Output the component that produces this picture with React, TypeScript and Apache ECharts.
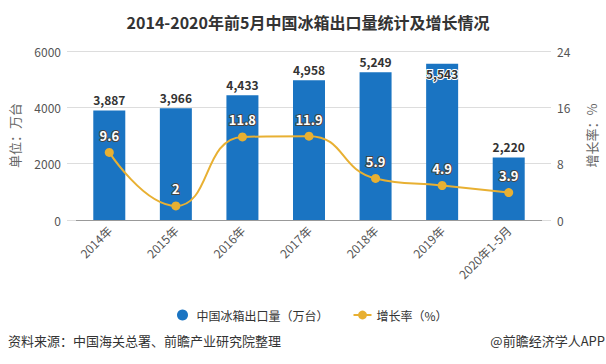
import React, { useEffect, useRef } from "react";
import * as echarts from "echarts";

const categories = ["2014年", "2015年", "2016年", "2017年", "2018年", "2019年", "2020年1-5月"];
const exportVolume = [3887, 3966, 4433, 4958, 5249, 5543, 2220];
const growthRate = [9.6, 2, 11.8, 11.9, 5.9, 4.9, 3.9];
const leftTicks = { min: 0, max: 6000, interval: 2000 };
const rightTicks = { min: 0, max: 24, interval: 8 };

const FONT = "'Noto Sans CJK SC', 'Noto Sans', sans-serif";

export default function App() {
  const ref = useRef<HTMLDivElement>(null);
  useEffect(() => {
    const chart = echarts.init(ref.current!, undefined, { renderer: "svg" });
    chart.setOption({
      animation: false,
      backgroundColor: "#fff",
      textStyle: { fontFamily: FONT },
      title: {
        text: "2014-2020年前5月中国冰箱出口量统计及增长情况",
        left: 303,
        textAlign: "center",
        top: 9,
        textStyle: { fontSize: 16, fontWeight: "bold", color: "#333", fontFamily: FONT },
      },
      grid: { left: 72, right: 62, top: 51, bottom: 144 },
      legend: {
        left: 172,
        top: 304,
        itemGap: 24,
        itemWidth: 18,
        itemHeight: 11,
        textStyle: { fontSize: 12, color: "#333", fontFamily: FONT },
        data: [
          { name: "中国冰箱出口量（万台）", icon: "circle" },
          { name: "增长率（%）" },
        ],
      },
      xAxis: {
        type: "category",
        data: categories,
        axisLine: { lineStyle: { color: "#999" } },
        axisTick: { alignWithLabel: true, length: 6, lineStyle: { color: "#999" } },
        axisLabel: { rotate: 45, fontSize: 12, color: "#555", margin: 8, fontFamily: FONT },
      },
      yAxis: [
        {
          type: "value",
          ...leftTicks,
          name: "单位：万台",
          nameLocation: "middle",
          nameGap: 55,
          nameRotate: 90,
          nameTextStyle: { fontSize: 13, color: "#666", fontFamily: FONT },
          axisLine: { show: false },
          axisTick: { show: true, length: 9, lineStyle: { color: "#ddd" } },
          axisLabel: { fontSize: 12, color: "#555", margin: 15, formatter: (v: number) => String(v) },
          splitLine: { lineStyle: { color: "#ddd" } },
        },
        {
          type: "value",
          ...rightTicks,
          name: "增长率：%",
          nameLocation: "middle",
          nameGap: 43,
          nameRotate: 90,
          nameTextStyle: { fontSize: 13, color: "#666", fontFamily: FONT },
          axisLine: { show: false },
          axisTick: { show: true, length: 9, lineStyle: { color: "#ddd" } },
          axisLabel: { fontSize: 12, color: "#555", margin: 15, formatter: (v: number) => String(v) },
          splitLine: { show: false },
        },
      ],
      series: [
        {
          name: "中国冰箱出口量（万台）",
          type: "bar",
          barWidth: 32,
          itemStyle: { color: "#1a74c2" },
          data: exportVolume.map((v, i) =>
            i === 5
              ? { value: v, label: { position: "insideTop", distance: 4 } }
              : { value: v }
          ),
          label: {
            show: true,
            position: "top",
            distance: 5,
            fontSize: 12,
            fontWeight: "bold",
            color: "#333",
            textBorderColor: "#fff",
            textBorderWidth: 2,
            formatter: (p: any) => Number(p.value).toLocaleString("en-US"),
          },
        },
        {
          name: "增长率（%）",
          type: "line",
          yAxisIndex: 1,
          smooth: true,
          symbol: "circle",
          symbolSize: 9,
          lineStyle: { color: "#e8b032", width: 2 },
          itemStyle: { color: "#e8b032" },
          data: growthRate,
          label: {
            show: true,
            position: "top",
            distance: 6,
            fontSize: 13,
            fontWeight: "bold",
            color: "#fff",
            textBorderColor: "#444",
            textBorderWidth: 2,
          },
        },
      ],
      graphic: [
        {
          type: "text",
          left: 8,
          top: 334,
          style: { text: "资料来源：中国海关总署、前瞻产业研究院整理", fontSize: 13, fill: "#333", fontFamily: FONT },
        },
        {
          type: "text",
          right: 1,
          top: 334,
          style: { text: "@前瞻经济学人APP", fontSize: 13, fill: "#333", fontFamily: FONT },
        },
      ],
    });
    return () => chart.dispose();
  }, []);
  return <div ref={ref} style={{ position: "fixed", left: 0, top: 0, width: 606, height: 364 }} />;
}
